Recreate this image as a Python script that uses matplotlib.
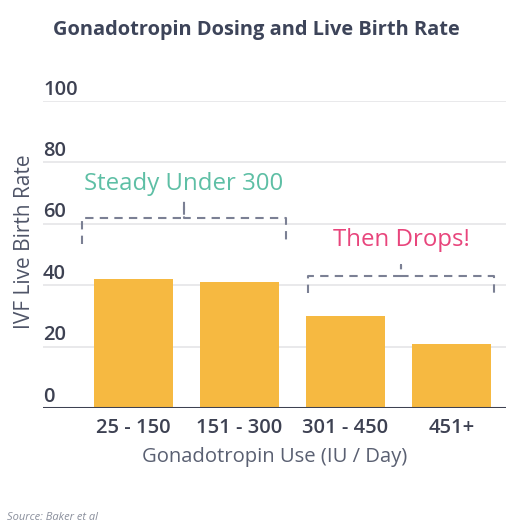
import matplotlib
matplotlib.use("Agg")
import matplotlib.pyplot as plt
from matplotlib.transforms import offset_copy

plt.rcParams['font.family'] = ['Open Sans', 'DejaVu Sans']

categories = ["25 - 150", "151 - 300", "301 - 450", "451+"]
live_birth_rate = [42, 41, 30, 21]
y_ticks = [0, 20, 40, 60, 80, 100]

# bracket annotations: (x_start, x_end, y_level, label, label_y)
bracket_steady = [-0.49, 1.44, 62, "Steady Under 300", 73]
bracket_drops = [1.65, 3.40, 43, "Then Drops!", 54.7]

W, H = 519, 528
fig = plt.figure(figsize=(W / 100, H / 100), dpi=100)
ax = fig.add_axes([43 / W, 1 - 408 / H, (506 - 43) / W, (408 - 101) / H])

x = list(range(len(categories)))
ax.bar(x, live_birth_rate, width=0.745, color="#F6B941", zorder=2)

ax.set_xlim(-0.854, 3.514)
ax.set_ylim(0, 100)

for t in y_ticks[1:]:
    ax.axhline(t, color="#e5e5e8", lw=1.2, zorder=0)
ax.axhline(0, color="#3d4152", lw=2.2, zorder=3)

for s in ax.spines.values():
    s.set_visible(False)
ax.set_yticks([])
ax.set_xticks(x)
ax.set_xticklabels(categories, fontsize=14.5, color="#3d4152", fontweight=600)
ax.tick_params(axis='x', length=0, pad=7)

tr = offset_copy(ax.get_yaxis_transform(), fig=fig, x=0, y=1, units='points')
for t in y_ticks:
    ax.text(0, t, str(t), transform=tr, ha='left', va='bottom',
            fontsize=14.5, color="#3d4152", fontweight=600)

ax.set_xlabel("Gonadotropin Use (IU / Day)", fontsize=14.6, color="#5a6072", labelpad=7)
fig.text(25 / W, 1 - 242 / H, "IVF Live Birth Rate", rotation=90, ha='center',
         va='center', fontsize=15, color="#4f5568")

fig.text(256 / W, 1 - 30 / H, "Gonadotropin Dosing and Live Birth Rate",
         ha='center', va='center', fontsize=14.4, fontweight='bold', color="#3d4459")
fig.text(7 / W, 1 - 518 / H, "Source: Baker et al", ha='left', va='center',
         fontsize=8, style='italic', color="#8a8f9c")


def bracket(spec, color, drop, tick):
    x0, x1, y, label, ly = spec
    xm = (x0 + x1) / 2
    kw = dict(color="#7b8094", lw=1.5, ls=(0, (4, 3)), zorder=4, clip_on=False)
    ax.plot([x0, x0, xm, xm, xm, x1, x1], [y - drop, y, y, y + tick, y, y, y - drop], **kw)
    ax.text(xm, ly, label, ha='center', va='center',
            fontsize=17.3, color=color, zorder=5)


bracket(bracket_steady, "#5ebfa5", 8.5, 5.5)
bracket(bracket_drops, "#e8457c", 5.5, 3.5)

fig.savefig("out.png", dpi=100)
